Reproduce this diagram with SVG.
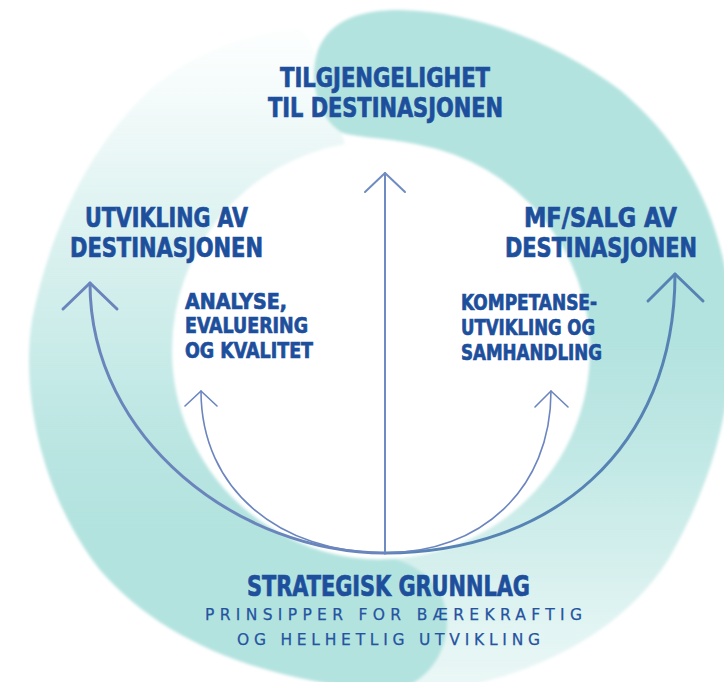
<svg xmlns="http://www.w3.org/2000/svg" width="724" height="682" viewBox="0 0 724 682">
  <style>
    .title { font-family: "Liberation Sans Narrow", "DejaVu Sans Condensed", "Liberation Sans", sans-serif; font-weight: bold; fill: #1d4f9c; stroke: #1d4f9c; stroke-width: 0.7; }
    .big { font-size: 27px; }
    .small { font-size: 22px; }
    .mid-anchor { text-anchor: middle; }
    .sub { font-family: "DejaVu Sans", "Liberation Sans", sans-serif; font-size: 15.5px; font-weight: normal; fill: #2553a0; stroke: #2553a0; stroke-width: 0.25; text-anchor: middle; }
    .conn { fill: none; stroke-linecap: round; stroke-linejoin: round; }
    .thick { stroke-width: 3; }
    .mid { stroke-width: 2; }
    .thin { stroke-width: 1.6; }
  </style>
  <defs>
    <linearGradient id="gLeft" gradientUnits="userSpaceOnUse" x1="0" y1="20" x2="0" y2="682">
      <stop offset="0" stop-color="#b3e3df" stop-opacity="0.02"/>
      <stop offset="0.12" stop-color="#b3e3df" stop-opacity="0.15"/>
      <stop offset="0.27" stop-color="#b3e3df" stop-opacity="0.4"/>
      <stop offset="0.45" stop-color="#b3e3df" stop-opacity="0.64"/>
      <stop offset="0.65" stop-color="#b3e3df" stop-opacity="0.92"/>
      <stop offset="0.77" stop-color="#b3e3df" stop-opacity="1"/>
      <stop offset="1" stop-color="#b3e3df" stop-opacity="1"/>
    </linearGradient>
    <linearGradient id="gRight" gradientUnits="userSpaceOnUse" x1="0" y1="0" x2="0" y2="682">
      <stop offset="0" stop-color="#b3e3df" stop-opacity="1"/>
      <stop offset="0.5" stop-color="#b3e3df" stop-opacity="1"/>
      <stop offset="0.66" stop-color="#b3e3df" stop-opacity="0.83"/>
      <stop offset="0.8" stop-color="#b3e3df" stop-opacity="0.6"/>
      <stop offset="0.9" stop-color="#b3e3df" stop-opacity="0.42"/>
      <stop offset="1" stop-color="#b3e3df" stop-opacity="0.28"/>
    </linearGradient>
    <filter id="soft" x="-5%" y="-5%" width="110%" height="110%">
      <feGaussianBlur stdDeviation="1.5"/>
    </filter>
  </defs>

  <rect width="724" height="682" fill="#ffffff"/>

  <g id="swirl" filter="url(#soft)">
    <path id="swirl-right" fill="url(#gRight)" d="M381,559 A209,209 0 0 0 590,350 A209,209 0 0 0 420,145 C390,138 360,138 343,133 C318,120 308,80 318,50 C330,20 360,10 400,10 C480,12 560,45 620,90 C680,140 720,210 730,300 C738,380 720,470 668,560 C630,620 560,665 470,685 L360,690 C360,640 365,590 381,559 Z"/>
    <path id="swirl-left" fill="url(#gLeft)" d="M395,559 A209,209 0 0 1 172,350 A209,209 0 0 1 345,144 C335,110 325,60 300,28 C240,35 190,55 150,90 C90,145 50,230 32,320 C20,400 45,500 100,570 C160,640 260,680 380,690 C420,692 445,660 447,625 C448,595 430,570 395,559 Z"/>
  </g>

  <g id="connectors">
    <path id="arrow-left" class="conn thick" stroke="#6a85bb" d="M385,553 C240,553 90,440 90,283"/>
    <polyline class="conn thick" stroke="#6a85bb" points="63,309 90,283 117,309"/>
    <path id="arrow-right" class="conn thick" stroke="#5683b4" d="M385,553 C550,553 675,450 675,274"/>
    <polyline class="conn thick" stroke="#5683b4" points="648,301 675,274 703,301"/>
    <line id="arrow-up" class="conn mid" stroke="#6f8cc2" x1="385" y1="553" x2="385" y2="173"/>
    <polyline class="conn mid" stroke="#6f8cc2" points="365,192 385,173 405,192"/>
    <path id="arrow-small-left" class="conn thin" stroke="#6b86bf" d="M385,553 C280,553 201,490 201,391"/>
    <polyline class="conn thin" stroke="#6b86bf" points="185,406 201,391 217,406"/>
    <path id="arrow-small-right" class="conn thin" stroke="#6b86bf" d="M385,553 C480,553 551,490 551,391"/>
    <polyline class="conn thin" stroke="#6b86bf" points="535,407 551,391 568,407"/>
  </g>

  <g id="node-tilgjengelighet">
    <text class="title big mid-anchor" x="385" y="87" textLength="210" lengthAdjust="spacingAndGlyphs">TILGJENGELIGHET</text>
    <text class="title big mid-anchor" x="385.5" y="117" textLength="235" lengthAdjust="spacingAndGlyphs">TIL DESTINASJONEN</text>
  </g>

  <g id="node-utvikling">
    <text class="title big mid-anchor" x="166.5" y="227" textLength="163" lengthAdjust="spacingAndGlyphs">UTVIKLING AV</text>
    <text class="title big mid-anchor" x="166.5" y="257" textLength="193" lengthAdjust="spacingAndGlyphs">DESTINASJONEN</text>
  </g>

  <g id="node-mfsalg">
    <text class="title big mid-anchor" x="600.5" y="227" textLength="153" lengthAdjust="spacingAndGlyphs">MF/SALG AV</text>
    <text class="title big mid-anchor" x="601" y="257" textLength="192" lengthAdjust="spacingAndGlyphs">DESTINASJONEN</text>
  </g>

  <g id="node-analyse">
    <text class="title small" x="185" y="309" textLength="102" lengthAdjust="spacingAndGlyphs">ANALYSE,</text>
    <text class="title small" x="185" y="333" textLength="123" lengthAdjust="spacingAndGlyphs">EVALUERING</text>
    <text class="title small" x="185" y="358" textLength="128" lengthAdjust="spacingAndGlyphs">OG KVALITET</text>
  </g>

  <g id="node-kompetanse">
    <text class="title small" x="461" y="310" textLength="136" lengthAdjust="spacingAndGlyphs">KOMPETANSE-</text>
    <text class="title small" x="461" y="335" textLength="134" lengthAdjust="spacingAndGlyphs">UTVIKLING OG</text>
    <text class="title small" x="461" y="360" textLength="141" lengthAdjust="spacingAndGlyphs">SAMHANDLING</text>
  </g>

  <g id="node-strategisk">
    <text class="title big mid-anchor" x="388.5" y="596" textLength="283" lengthAdjust="spacingAndGlyphs" style="font-size:29px">STRATEGISK GRUNNLAG</text>
    <text class="sub" x="393.5" y="620" textLength="377" lengthAdjust="spacing">PRINSIPPER FOR BÆREKRAFTIG</text>
    <text class="sub" x="388.5" y="645" textLength="303" lengthAdjust="spacing">OG HELHETLIG UTVIKLING</text>
  </g>
</svg>
